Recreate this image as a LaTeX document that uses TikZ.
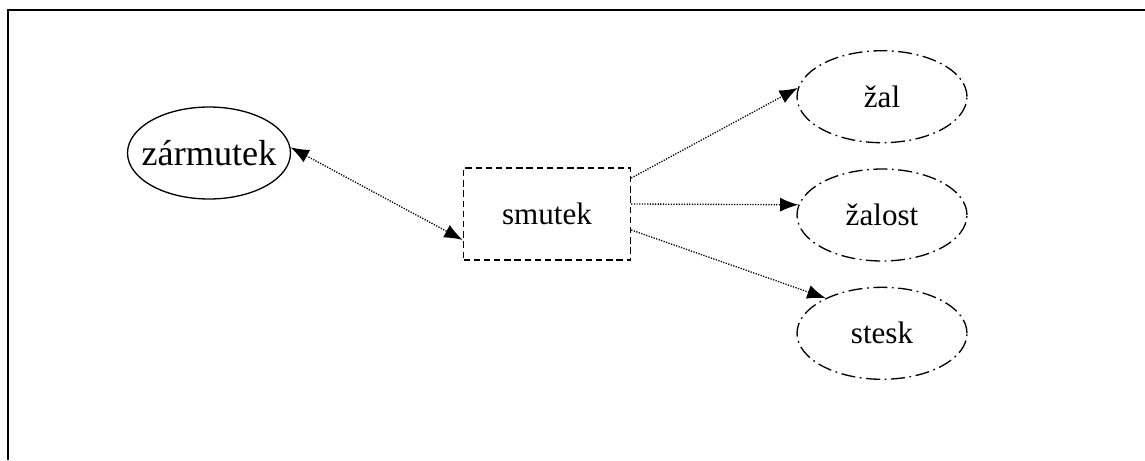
\documentclass[tikz,border=0pt]{standalone}
\usepackage{fontspec}
\setmainfont{Liberation Serif}
\usetikzlibrary{positioning, shapes.geometric, arrows.meta}

\tikzset{
	word/.style = {ellipse, draw, dash pattern=on 8pt off 2.6pt on 1pt off 2.6pt, line width=0.75pt,
		minimum width=3.4cm, minimum height=1.84cm, inner sep=0pt, font=\fontsize{17.7}{20}\selectfont},
	hub/.style = {rectangle, draw, dash pattern=on 3.6pt off 2.2pt, line width=0.85pt,
		minimum width=3.34cm, minimum height=1.84cm, inner sep=0pt, font=\fontsize{17.7}{20}\selectfont},
	root/.style = {ellipse, draw, line width=0.75pt, minimum width=3.26cm, minimum height=1.84cm,
		inner xsep=-0.2cm, inner ysep=0pt, font=\fontsize{20.6}{23}\selectfont}
}

\begin{document}
\begin{tikzpicture}[x=0.02cm, y=-0.02cm, >={Latex[length=10.5pt,width=8pt]},
	link/.style = {dash pattern=on 0.7pt off 0.8pt, line width=0.75pt}]

		\useasboundingbox (0,0) rectangle (1145,460);

		% frame, open to the right and below
		\draw[line width=1pt] (8,460) -- (8,10) -- (1145,10);

		\node (smutek) [hub] at (547,214) {smutek};
		\node (zarmutek) [root] at (209,153) {zármutek};
		\node (zalost) [word] at (882,215) {žalost};
		\node (zal) [word, above=0.5cm of zalost] {žal};
		\node (stesk) [word, below=0.5cm of zalost] {stesk};

			\path[link]
				(zarmutek.4) edge [<->] ([yshift=-0.52cm]smutek.west)
				([yshift=0.72cm]smutek.east) edge [->] (zal.174)
				([yshift=0.2cm]smutek.east) edge [->] (zalost.173)
				([yshift=-0.32cm]smutek.east) edge [->] (stesk.148);

\end{tikzpicture}
\end{document}
